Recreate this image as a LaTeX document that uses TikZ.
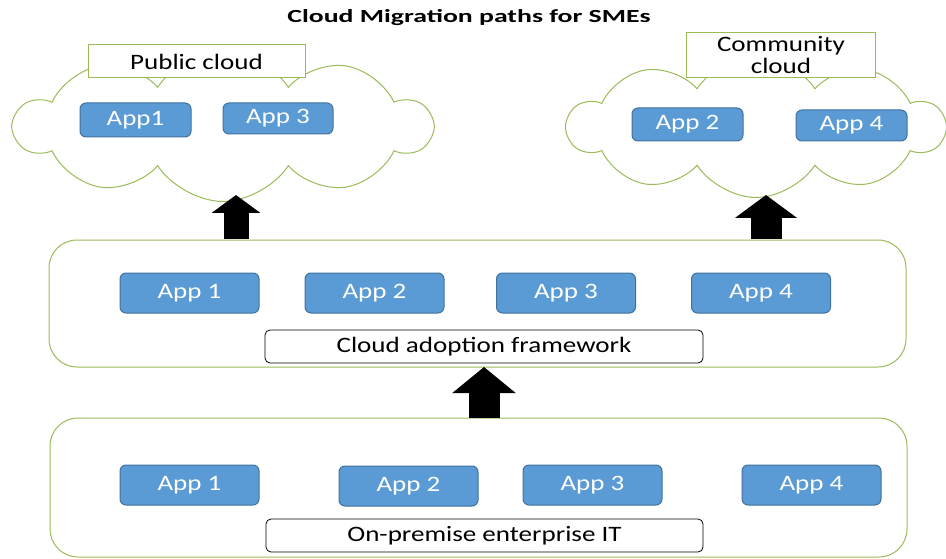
\documentclass[tikz,border=0pt]{standalone}
\usepackage{fontspec}
\setmainfont{Carlito}[FakeStretch=1.23]
\newfontfamily\titlefont{Carlito}[FakeStretch=1.5]
\usetikzlibrary{shapes.symbols,arrows.meta}
\definecolor{appblue}{RGB}{91,155,213}
\definecolor{appedge}{RGB}{65,113,156}
\definecolor{tiergreen}{RGB}{155,187,89}
\tikzset{
  appbox/.style={draw=appedge,fill=appblue,text=white,line width=1pt,rounded corners=6pt,inner sep=0pt,font=\fontsize{22}{22}\selectfont},
  tierbox/.style={draw=tiergreen,line width=1pt,rounded corners=28pt,inner sep=0pt},
  labelbox/.style={draw=tiergreen,fill=white,line width=1pt,inner sep=0pt,align=center,font=\fontsize{22}{22}\selectfont},
  namebox/.style={draw=black,fill=white,line width=0.8pt,rounded corners=5pt,inner sep=0pt,font=\fontsize{22}{22}\selectfont},
  cloudbox/.style={cloud,cloud puffs=10,cloud puff arc=115,cloud ignores aspect,draw=tiergreen,fill=white,line width=1pt,inner sep=0pt},
  bigarrow/.style={line width=31pt,-{Triangle[width=61pt,length=23pt]}}
}

\begin{document}
\begin{tikzpicture}[x=1pt,y=-1pt]
\useasboundingbox (0,0) rectangle (946,559);
\node[font=\titlefont\bfseries\fontsize{18.5}{18.5}\selectfont] (title) at (469,18) {Cloud Migration paths for SMEs}; %title

\node[cloudbox,minimum width=416pt,minimum height=150pt] (pub) at (223,126.5) {}; %public cloud
\node[labelbox,minimum width=217pt,minimum height=33pt] (publbl) at (196.5,61.5) {Public cloud};
\node[appbox,minimum width=111pt,minimum height=34pt] (pubA1) at (135.5,120) {App1};
\node[appbox,minimum width=110pt,minimum height=31pt] (pubA3) at (278,118.5) {App 3};

\node[cloudbox,minimum width=376pt,minimum height=141pt] (com) at (756,127) {}; %community cloud
\node[labelbox,minimum width=189pt,minimum height=45pt] (comlbl) at (781,55.5) {Community\\cloud};
\node[appbox,minimum width=111pt,minimum height=33pt] (comA2) at (687.5,124.5) {App 2};
\node[appbox,minimum width=111pt,minimum height=31pt] (comA4) at (851.5,125.5) {App 4};

\node[tierbox,minimum width=857pt,minimum height=127pt] (mid) at (477.5,303.5) {}; %adoption tier
\node[appbox,minimum width=139pt,minimum height=40pt] (midA1) at (189.5,293) {App 1};
\node[appbox,minimum width=139pt,minimum height=40pt] (midA2) at (374.5,293) {App 2};
\node[appbox,minimum width=139pt,minimum height=40pt] (midA3) at (566,293) {App 3};
\node[appbox,minimum width=139pt,minimum height=40pt] (midA4) at (761,293) {App 4};
\node[namebox,minimum width=438pt,minimum height=33pt] (midlbl) at (484,346.5) {Cloud adoption framework};

\node[tierbox,minimum width=857pt,minimum height=139pt] (onp) at (478.5,487.5) {}; %on-premise tier
\node[appbox,minimum width=139pt,minimum height=40pt] (onpA1) at (189.5,485) {App 1};
\node[appbox,minimum width=139pt,minimum height=40pt] (onpA2) at (408.5,486) {App 2};
\node[appbox,minimum width=139pt,minimum height=40pt] (onpA3) at (592.5,485) {App 3};
\node[appbox,minimum width=139pt,minimum height=40pt] (onpA4) at (811.5,485) {App 4};
\node[namebox,minimum width=437pt,minimum height=33pt] (onplbl) at (484.5,535.5) {On-premise enterprise IT};

\coordinate (up1) at (236,195); %to public
\coordinate (up2) at (766,195); %to community
\coordinate (up3) at (484,367); %to adoption
\draw[bigarrow,line width=25pt,-{Triangle[width=48pt,length=18pt]}] (up1 |- mid.north) -- (up1);
\draw[bigarrow] (up2 |- mid.north) -- (up2);
\draw[bigarrow,-{Triangle[width=62pt,length=26pt]}] (up3 |- onp.north) -- (up3);
\end{tikzpicture}
\end{document}
